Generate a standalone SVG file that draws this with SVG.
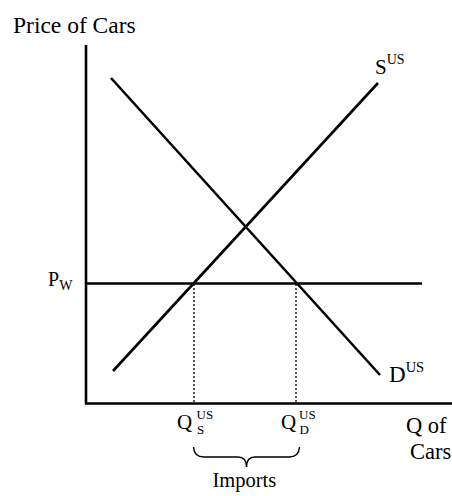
<svg xmlns="http://www.w3.org/2000/svg" width="452" height="496" viewBox="0 0 452 496">
<style>
.ax{stroke:#000;stroke-width:2.6;fill:none}
.ln{stroke:#000;stroke-width:2.6;fill:none;stroke-linecap:butt}
.dot{stroke:#000;stroke-width:1.3;stroke-dasharray:2 2;fill:none}
text{font-family:"Liberation Serif","Times New Roman",serif;fill:#000}
.q{font-family:"Liberation Serif","Times New Roman",serif}
</style>
<rect width="452" height="496" fill="#fff"/>
<g id="axes">
<line class="ax" x1="86" y1="45" x2="86" y2="404"/>
<line class="ax" x1="85" y1="403.5" x2="452" y2="403.5"/>
<text x="13" y="33" font-size="23.5">Price of Cars</text>
<text x="406" y="433" font-size="22.5">Q of</text>
<text x="410" y="459" font-size="22.5">Cars</text>
</g>
<g id="connectors">
<line class="ln" x1="113" y1="371" x2="378" y2="83"/>
<line class="ln" x1="111" y1="78" x2="380" y2="375"/>
<line class="ln" x1="86" y1="283.5" x2="422" y2="283.5"/>
<line class="dot" x1="194" y1="284" x2="194" y2="403"/>
<line class="dot" x1="296" y1="284" x2="296" y2="403"/>
<path d="M193.5,447 Q194,457 204,457 L238,457 Q246.5,457 246.5,467 Q246.5,457 255,457 L289,457 Q299,457 299.5,447" fill="none" stroke="#000" stroke-width="1.4"/>
</g>
<g id="supply">
<text x="375" y="73.5" font-size="21">S<tspan dy="-10" font-size="14">US</tspan></text>
</g>
<g id="demand">
<text x="389" y="382" font-size="23">D<tspan dy="-10" font-size="14.5">US</tspan></text>
</g>
<g id="pw">
<text x="48" y="286" font-size="20">P<tspan dy="4" font-size="14">W</tspan></text>
</g>
<g id="qs">
<text class="q" x="177" y="429" font-size="21">Q</text>
<text class="q" x="196.5" y="419" font-size="13">US</text>
<text class="q" x="197" y="434" font-size="13">S</text>
</g>
<g id="qd">
<text class="q" x="281" y="429" font-size="21">Q</text>
<text class="q" x="299" y="419" font-size="13">US</text>
<text class="q" x="299.5" y="434" font-size="13">D</text>
</g>
<g id="imports">
<text x="212.5" y="487" font-size="20.5">Imports</text>
</g>
</svg>
